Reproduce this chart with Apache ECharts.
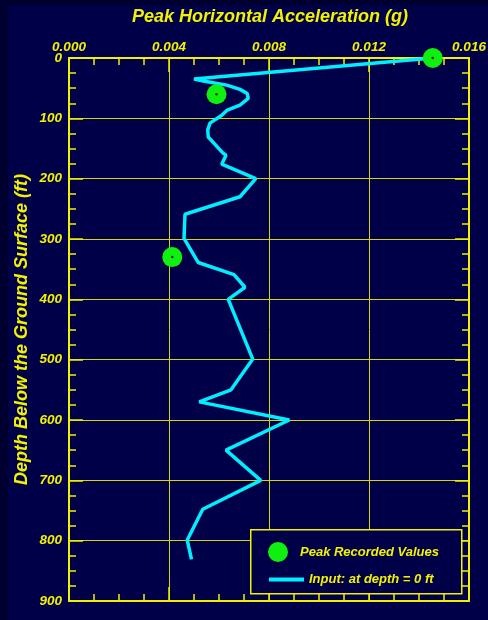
<!DOCTYPE html>
<html>
<head>
<meta charset="utf-8">
<script src="https://cdn.jsdelivr.net/npm/echarts@6/dist/echarts.min.js"></script>
<style>
  html, body { margin: 0; padding: 0; background: #000030; overflow: hidden; }
  #chart { width: 488px; height: 620px; }
</style>
</head>
<body>
<div id="chart"></div>
<script>
// Input motion profile: depth (ft) and peak horizontal acceleration (g)
const inputDepth = [0, 35, 38, 45, 52, 59, 67, 78, 87, 95, 108, 119, 131, 158, 161, 176, 200, 230, 259, 299, 339, 359, 380, 400, 499, 550, 570, 600, 650, 700, 748, 799, 831];
const inputAccel = [0.01455, 0.0050, 0.00537, 0.00631, 0.00684, 0.00713, 0.00717, 0.00684, 0.00631, 0.00611, 0.00564, 0.00555, 0.00557, 0.00617, 0.00628, 0.00611, 0.00747, 0.00684, 0.00464, 0.0046, 0.00517, 0.0066, 0.00704, 0.00637, 0.00735, 0.00648, 0.00521, 0.00881, 0.00628, 0.00767, 0.00535, 0.00473, 0.0049];

// Recorded peak values
const recordedDepth = [0, 60, 330];
const recordedAccel = [0.01455, 0.0059, 0.00413];

// Axis settings
const accelTicks = [0.000, 0.004, 0.008, 0.012, 0.016];
const depthTicks = [0, 100, 200, 300, 400, 500, 600, 700, 800, 900];

const seriesNames = ['Peak Recorded Values', 'Input: at depth = 0 ft'];

const YELLOW = '#f2f200';
const GRID_YELLOW = '#d6d600';
const CYAN = '#00eeff';
const FONT = 'Liberation Sans, Arial, sans-serif';

const inputData = inputDepth.map((d, i) => [inputAccel[i], d]);
const recordedData = recordedDepth.map((d, i) => [recordedAccel[i], d]);

const labelStyle = {
  color: YELLOW, fontFamily: FONT, fontWeight: 'bold', fontStyle: 'italic', fontSize: 13.5
};
const legendText = {
  color: YELLOW, fontFamily: FONT, fontWeight: 'bold', fontStyle: 'italic', fontSize: 13
};

const chart = echarts.init(document.getElementById('chart'), null, { renderer: 'canvas' });

const xBase = {
  type: 'value',
  min: accelTicks[0],
  max: accelTicks[accelTicks.length - 1],
  interval: accelTicks[1] - accelTicks[0],
  axisLine: { show: true, onZero: false, lineStyle: { color: YELLOW, width: 2 } },
  axisTick: { show: true, inside: true, length: 14, lineStyle: { color: YELLOW, width: 1.5 } },
  minorTick: { show: true, splitNumber: 4, length: 7, lineStyle: { color: YELLOW, width: 1.5 } },
};
const yBase = {
  type: 'value',
  inverse: true,
  min: depthTicks[0],
  max: depthTicks[depthTicks.length - 1],
  interval: depthTicks[1] - depthTicks[0],
  axisLine: { show: true, onZero: false, lineStyle: { color: YELLOW, width: 2 } },
  axisTick: { show: true, inside: true, length: 14, lineStyle: { color: YELLOW, width: 1.5 } },
  minorTick: { show: true, splitNumber: 4, length: 7, lineStyle: { color: YELLOW, width: 1.5 } },
};

chart.setOption({
  backgroundColor: '#000048',
  animation: false,
  title: {
    text: 'Peak Horizontal Acceleration (g)',
    left: 270, textAlign: 'center', top: 8, padding: 0,
    textStyle: { color: YELLOW, fontFamily: FONT, fontWeight: 'bold', fontStyle: 'italic', fontSize: 18 }
  },
  graphic: [
    // dark outer frame strips
    { type: 'rect', left: 0, top: 0, shape: { width: 488, height: 5 }, style: { fill: '#000030' }, silent: true },
    { type: 'rect', left: 0, top: 0, shape: { width: 8, height: 620 }, style: { fill: '#000030' }, silent: true },
    // legend box
    { type: 'rect', left: 250, top: 529, z: 3,
      shape: { width: 211, height: 64 },
      style: { fill: '#000048', stroke: YELLOW, lineWidth: 1.5 }, silent: true }
  ],
  grid: { left: 69, top: 58, width: 400, height: 543, containLabel: false, outerBoundsMode: 'none' },
  xAxis: [
    Object.assign({}, xBase, {
      position: 'top',
      axisLabel: Object.assign({ margin: 3.5, formatter: v => v.toFixed(3) }, labelStyle),
      splitLine: { show: true, lineStyle: { color: GRID_YELLOW, width: 1 } }
    }),
    Object.assign({}, xBase, {
      position: 'bottom',
      axisLabel: { show: false },
      splitLine: { show: false }
    })
  ],
  yAxis: [
    Object.assign({}, yBase, {
      position: 'left',
      name: 'Depth Below the Ground Surface (ft)',
      nameLocation: 'middle',
      nameRotate: 90,
      nameGap: 38,
      nameMoveOverlap: false,
      nameTextStyle: { color: YELLOW, fontFamily: FONT, fontWeight: 'bold', fontStyle: 'italic', fontSize: 18 },
      axisLabel: Object.assign({ margin: 7 }, labelStyle),
      splitLine: { show: true, lineStyle: { color: GRID_YELLOW, width: 1 } }
    }),
    Object.assign({}, yBase, {
      position: 'right',
      axisLabel: { show: false },
      splitLine: { show: false }
    })
  ],
  legend: [
    {
      data: [{ name: seriesNames[0], icon: 'circle' }],
      left: 268, top: 542, orient: 'vertical', padding: 0,
      itemWidth: 34, itemHeight: 20,
      textStyle: legendText,
      selectedMode: false, z: 5
    },
    {
      data: [{ name: seriesNames[1], icon: 'rect' }],
      left: 269, top: 573, orient: 'vertical', padding: 0,
      itemWidth: 35, itemHeight: 4,
      textStyle: legendText,
      selectedMode: false, z: 5
    }
  ],
  series: [
    {
      name: seriesNames[1],
      type: 'line',
      data: inputData,
      showSymbol: false,
      symbol: 'none',
      lineStyle: { color: CYAN, width: 3.5 },
      itemStyle: { color: CYAN },
      clip: false,
      z: 3
    },
    {
      name: seriesNames[0],
      type: 'scatter',
      data: recordedData,
      symbol: 'circle',
      symbolSize: 20,
      itemStyle: { color: '#10f010', opacity: 1 },
      clip: false,
      z: 4
    },
    {
      // centre dots of the recorded-value markers
      name: 'markerDots',
      type: 'scatter',
      data: recordedData,
      symbol: 'circle',
      symbolSize: 2.5,
      itemStyle: { color: '#000000' },
      clip: false,
      silent: true,
      z: 5
    }
  ]
});
</script>
</body>
</html>
